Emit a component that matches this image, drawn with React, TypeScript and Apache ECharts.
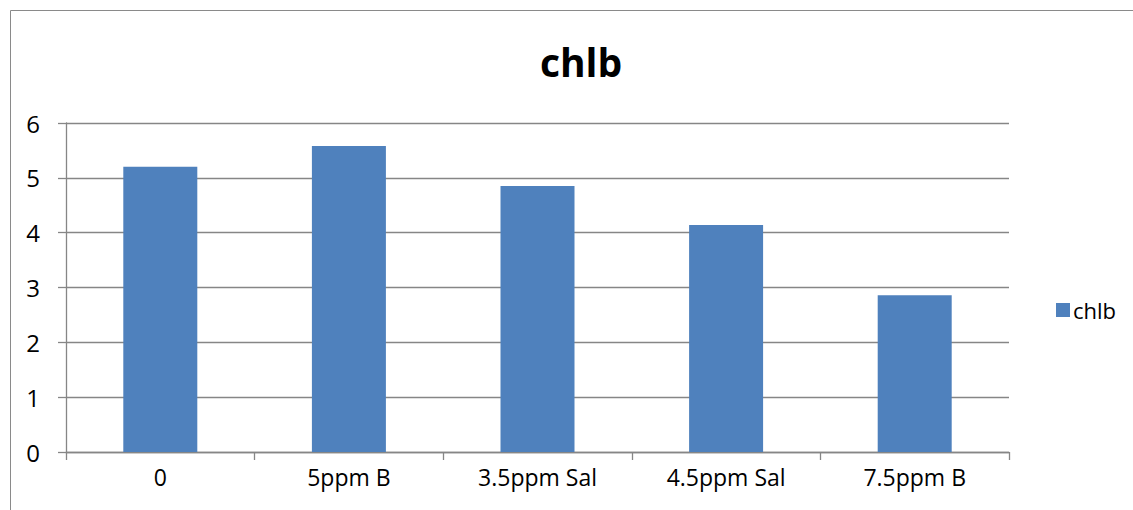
import React, { useEffect, useRef } from "react";
import * as echarts from "echarts";

const categories = ["0", "5ppm B", "3.5ppm Sal", "4.5ppm Sal", "7.5ppm B"];
const chlbValues = [5.2, 5.58, 4.85, 4.14, 2.86];
const seriesName = "chlb";
const titleText = "chlb";

export default function App() {
  const ref = useRef<HTMLDivElement>(null);
  useEffect(() => {
    if (!ref.current) return;
    const chart = echarts.init(ref.current, null, { renderer: "svg" });
    const font = "'Open Sans', 'Liberation Sans', sans-serif";
    chart.setOption({
      animation: false,
      backgroundColor: "#ffffff",
      title: {
        text: titleText,
        left: 576,
        top: 37,
        textAlign: "center",
        textStyle: { fontFamily: font, fontWeight: "bold", fontSize: 39, color: "#000" },
      },
      graphic: [
        {
          type: "rect",
          shape: { x: 10.5, y: 10.5, width: 1140, height: 600 },
          style: { fill: "none", stroke: "#8a8a8a", lineWidth: 1 },
          silent: true,
        },
      ],
      legend: {
        data: [seriesName],
        left: 1051,
        top: 294,
        itemWidth: 14,
        itemHeight: 14,
        itemGap: 6,
        icon: "rect",
        textStyle: { fontFamily: font, fontSize: 22, color: "#000", padding: [0, 0, 0, -2] },
      },
      grid: { left: 66, right: 124, top: 123, bottom: 58, containLabel: false },
      xAxis: {
        type: "category",
        data: categories,
        boundaryGap: true,
        axisLine: { lineStyle: { color: "#868686", width: 1.3 } },
        axisTick: { show: true, length: 8, alignWithLabel: false, lineStyle: { color: "#868686", width: 1.3 } },
        axisLabel: { fontFamily: font, fontSize: 23, color: "#000", margin: 13 },
      },
      yAxis: {
        type: "value",
        min: 0,
        max: 6,
        interval: 1,
        axisLine: { show: true, lineStyle: { color: "#868686", width: 1.3 } },
        axisTick: { show: true, length: 8, lineStyle: { color: "#868686", width: 1.3 } },
        splitLine: { show: true, lineStyle: { color: "#868686", width: 1.3 } },
        axisLabel: { fontFamily: font, fontSize: 24, color: "#000", margin: 26 },
      },
      series: [
        {
          name: seriesName,
          type: "bar",
          data: chlbValues,
          barWidth: 74,
          itemStyle: { color: "#4F81BD" },
        },
      ],
    });
    return () => chart.dispose();
  }, []);
  return (
    <div
      ref={ref}
      style={{ position: "absolute", left: 0, top: 0, width: 1133, height: 510 }}
    />
  );
}
